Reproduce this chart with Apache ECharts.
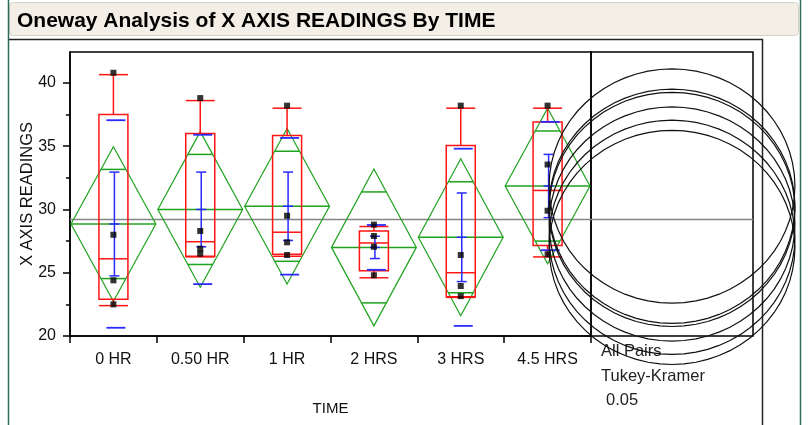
<!DOCTYPE html>
<html><head><meta charset="utf-8">
<script src="https://cdn.jsdelivr.net/npm/echarts@6/dist/echarts.min.js"></script>
<style>html,body{margin:0;padding:0;background:#fff}#c{width:809px;height:425px}</style>
</head><body><div id="c"></div>
<script>
// ---- data ----
const categories = ['0 HR', '0.50 HR', '1 HR', '2 HRS', '3 HRS', '4.5 HRS'];
const boxMin    = [22.4, 26.25, 26.3, 24.6, 23.05, 26.25];
const boxQ1     = [22.9, 26.3, 26.45, 25.15, 23.1, 27.15];
const boxMedian = [26.1, 27.45, 28.2, 27.35, 25.0, 31.5];
const boxQ3     = [37.5, 36.0, 35.85, 28.3, 35.05, 36.9];
const boxMax    = [40.65, 38.6, 38.0, 28.65, 38.0, 38.0];
const means     = [28.85, 30.0, 30.25, 27.0, 27.8, 31.85];
const ciHalf    = [6.1, 6.15, 6.15, 6.2, 6.2, 6.15];
const stdDev    = [8.2, 5.9, 5.4, 1.77, 7.0, 5.07];
const stdErr    = [4.1, 2.95, 2.7, 0.88, 3.5, 2.5];
const points0HR   = [40.8, 28.0, 24.4, 22.5];
const points050HR = [38.8, 28.3, 26.9, 26.5];
const points1HR   = [38.2, 29.5, 27.4, 26.4];
const points2HRS  = [28.8, 27.9, 27.05, 24.8];
const points3HRS  = [38.2, 26.4, 23.95, 23.15];
const points45HRS = [38.2, 33.55, 29.9, 26.45];
const grandMean = 29.2;
const circleRadius = 9.25;
const yMajorTicks = [20, 25, 30, 35, 40];
const yMinorTicks = [22.5, 27.5, 32.5, 37.5];
const yMin = 20, yMax = 42.44;
const noteLines = ['All Pairs', 'Tukey-Kramer', '0.05'];
const titleText = 'Oneway Analysis of X AXIS READINGS By TIME';

// ---- styles ----
const FONT = "'Liberation Sans', Arial, sans-serif";
const RED = '#ff1414', BLUE = '#2a2aff', GREEN = '#1fa31f';

const pointGroups = [points0HR, points050HR, points1HR, points2HRS, points3HRS, points45HRS];
const pointData = [];
pointGroups.forEach((g, i) => g.forEach(v => pointData.push([i, v])));

function line(x1, y1, x2, y2, color, w) {
  return { type: 'line', shape: { x1, y1, x2, y2 }, style: { stroke: color, lineWidth: w || 1 } };
}

function renderBox(params, api) {
  const i = api.value(0);
  const cx = api.coord([i, yMin])[0];
  const bw = api.size([1, 0])[0];
  const h = bw * 0.167;
  const yLo = api.coord([i, api.value(1)])[1];
  const yQ1 = api.coord([i, api.value(2)])[1];
  const yMd = api.coord([i, api.value(3)])[1];
  const yQ3 = api.coord([i, api.value(4)])[1];
  const yHi = api.coord([i, api.value(5)])[1];
  return { type: 'group', children: [
    { type: 'rect', shape: { x: cx - h, y: yQ3, width: 2 * h, height: yQ1 - yQ3 }, style: { fill: 'none', stroke: RED, lineWidth: 1.5 } },
    line(cx - h, yMd, cx + h, yMd, RED, 1.5),
    line(cx, yQ3, cx, yHi, RED, 1.5),
    line(cx, yQ1, cx, yLo, RED, 1.5),
    line(cx - h, yHi, cx + h, yHi, RED, 1.5),
    line(cx - h, yLo, cx + h, yLo, RED, 1.5)
  ]};
}

function renderDiamond(params, api) {
  const i = api.value(0);
  const m = api.value(1), ci = api.value(2);
  const cx = api.coord([i, yMin])[0];
  const bw = api.size([1, 0])[0];
  const hw = bw / 2 - 1;
  const ym = api.coord([i, m])[1];
  const yt = api.coord([i, m + ci])[1];
  const yb = api.coord([i, m - ci])[1];
  const k = Math.SQRT1_2;
  const yo1 = api.coord([i, m + ci * k])[1];
  const yo2 = api.coord([i, m - ci * k])[1];
  const ow = hw * (1 - k);
  return { type: 'group', children: [
    { type: 'polygon', shape: { points: [[cx - hw, ym], [cx, yt], [cx + hw, ym], [cx, yb]] }, style: { fill: 'none', stroke: GREEN, lineWidth: 1.2 } },
    line(cx - hw, ym, cx + hw, ym, GREEN, 1.5),
    line(cx - ow, yo1, cx + ow, yo1, GREEN, 1.5),
    line(cx - ow, yo2, cx + ow, yo2, GREEN, 1.5)
  ]};
}

function renderBlue(params, api) {
  const i = api.value(0);
  const m = api.value(1), se = api.value(2), sd = api.value(3);
  const cx = api.coord([i, yMin])[0] + 1;
  const ym = api.coord([i, m])[1];
  const ys1 = api.coord([i, m + se])[1];
  const ys2 = api.coord([i, m - se])[1];
  const yd1 = api.coord([i, m + sd])[1];
  const yd2 = api.coord([i, m - sd])[1];
  return { type: 'group', children: [
    line(cx, ys1, cx, ys2, BLUE, 1.5),
    line(cx - 5, ys1, cx + 5, ys1, BLUE, 1.5),
    line(cx - 5, ys2, cx + 5, ys2, BLUE, 1.5),
    line(cx - 5, ym, cx + 5, ym, BLUE, 1.5),
    line(cx - 8, yd1, cx + 11, yd1, BLUE, 1.8),
    line(cx - 8, yd2, cx + 11, yd2, BLUE, 1.8)
  ]};
}

function renderGrandMean(params, api) {
  const cs = params.coordSys;
  const y = api.coord([api.value(0), api.value(1)])[1];
  return line(cs.x, y, cs.x + cs.width, y, '#858585', 1.4);
}

function renderCircle(params, api) {
  const c = api.coord([api.value(0), api.value(1)]);
  const r = api.size([0, api.value(2)])[1];
  const rx = r * 1.05;
  const pts = [];
  for (let a = 0; a < 64; a++) {
    const t = a / 64 * Math.PI * 2;
    pts.push([c[0] + rx * Math.cos(t), c[1] + r * Math.sin(t)]);
  }
  return { type: 'polygon', shape: { points: pts }, style: { fill: 'none', stroke: '#111', lineWidth: 1.2 } };
}

const chart = echarts.init(document.getElementById('c'), null, { renderer: 'canvas' });
chart.setOption({
  animation: false,
  backgroundColor: '#ffffff',
  title: {
    text: titleText, left: 17, top: 9, padding: 0,
    textStyle: { fontFamily: FONT, fontSize: 21, fontWeight: 'bold', color: '#000', lineHeight: 24 }
  },
  graphic: [
    { type: 'rect', z: -10, shape: { x: 9.5, y: 2.5, width: 789, height: 33, r: 4 }, style: { fill: '#f3efe6', stroke: '#d6d1c6', lineWidth: 1 } },
    { type: 'line', shape: { x1: 8.5, y1: 0, x2: 8.5, y2: 425 }, style: { stroke: '#2e6b5a', lineWidth: 1.5 } },
    { type: 'line', shape: { x1: 800.5, y1: 0, x2: 800.5, y2: 425 }, style: { stroke: '#2e6b5a', lineWidth: 1.5 } },
    { type: 'line', shape: { x1: 9, y1: 39.5, x2: 763, y2: 39.5 }, style: { stroke: '#222', lineWidth: 1.5 } },
    { type: 'line', shape: { x1: 762.5, y1: 39, x2: 762.5, y2: 425 }, style: { stroke: '#222', lineWidth: 1.5 } },
    { type: 'text', left: 601, top: 343, style: { text: noteLines[0], font: '16.5px ' + FONT, fill: '#222' } },
    { type: 'text', left: 601, top: 368, style: { text: noteLines[1], font: '16.5px ' + FONT, fill: '#222' } },
    { type: 'text', left: 606, top: 392, style: { text: noteLines[2], font: '16.5px ' + FONT, fill: '#222' } }
  ],
  grid: [
    { left: 70, top: 52, width: 521, height: 284, show: true, borderColor: '#000', borderWidth: 1.5, backgroundColor: 'transparent' },
    { left: 591, top: 52, width: 162, height: 284, show: true, borderColor: '#000', borderWidth: 1.5, backgroundColor: 'transparent' }
  ],
  xAxis: [
    { type: 'category', gridIndex: 0, data: categories, boundaryGap: true,
      axisLine: { lineStyle: { color: '#000', width: 1.5 } },
      axisTick: { show: true, length: 7, lineStyle: { color: '#000', width: 1.5 } },
      axisLabel: { fontFamily: FONT, fontSize: 16, color: '#111', margin: 16 },
      name: 'TIME', nameLocation: 'middle', nameGap: 65, nameMoveOverlap: false,
      nameTextStyle: { fontFamily: FONT, fontSize: 15, color: '#111' },
      splitLine: { show: false } },
    { type: 'value', gridIndex: 1, min: 0, max: 1, show: false }
  ],
  yAxis: [
    { type: 'value', gridIndex: 0, min: yMin, max: yMax,
      axisLine: { show: true, lineStyle: { color: '#000', width: 1.5 } },
      axisTick: { show: true, length: 7, customValues: yMajorTicks, lineStyle: { color: '#000', width: 1.5 } },
      axisLabel: { fontFamily: FONT, fontSize: 16, color: '#111', margin: 14, customValues: yMajorTicks },
      splitLine: { show: false },
      name: 'X AXIS READINGS', nameLocation: 'middle', nameGap: 34, nameMoveOverlap: false,
      nameTextStyle: { fontFamily: FONT, fontSize: 16.5, color: '#111' } },
    { type: 'value', gridIndex: 0, min: yMin, max: yMax, position: 'left',
      axisLine: { show: false },
      axisTick: { show: true, length: 4, customValues: yMinorTicks, lineStyle: { color: '#000', width: 1.5 } },
      axisLabel: { show: false }, splitLine: { show: false } },
    { type: 'value', gridIndex: 1, min: yMin, max: yMax, show: false, splitLine: { show: false } }
  ],
  series: [
    { type: 'custom', name: 'grandMean1', xAxisIndex: 0, yAxisIndex: 0, z: 1, renderItem: renderGrandMean, data: [[0, grandMean]] },
    { type: 'custom', name: 'grandMean2', xAxisIndex: 1, yAxisIndex: 2, z: 1, renderItem: renderGrandMean, data: [[0.5, grandMean]] },
    { type: 'custom', name: 'diamonds', xAxisIndex: 0, yAxisIndex: 0, z: 2, renderItem: renderDiamond,
      data: categories.map((c, i) => [i, means[i], ciHalf[i]]) },
    { type: 'custom', name: 'boxes', xAxisIndex: 0, yAxisIndex: 0, z: 3, renderItem: renderBox,
      data: categories.map((c, i) => [i, boxMin[i], boxQ1[i], boxMedian[i], boxQ3[i], boxMax[i]]) },
    { type: 'custom', name: 'meanErr', xAxisIndex: 0, yAxisIndex: 0, z: 4, renderItem: renderBlue,
      data: categories.map((c, i) => [i, means[i], stdErr[i], stdDev[i]]) },
    { type: 'scatter', name: 'points', xAxisIndex: 0, yAxisIndex: 0, z: 5, symbol: 'rect', symbolSize: 6,
      itemStyle: { color: '#000' }, data: pointData },
    { type: 'custom', name: 'circles', xAxisIndex: 1, yAxisIndex: 2, z: 6, clip: false, renderItem: renderCircle,
      data: means.map(m => [0.5, m, circleRadius]) }
  ]
});
</script>
</body></html>
